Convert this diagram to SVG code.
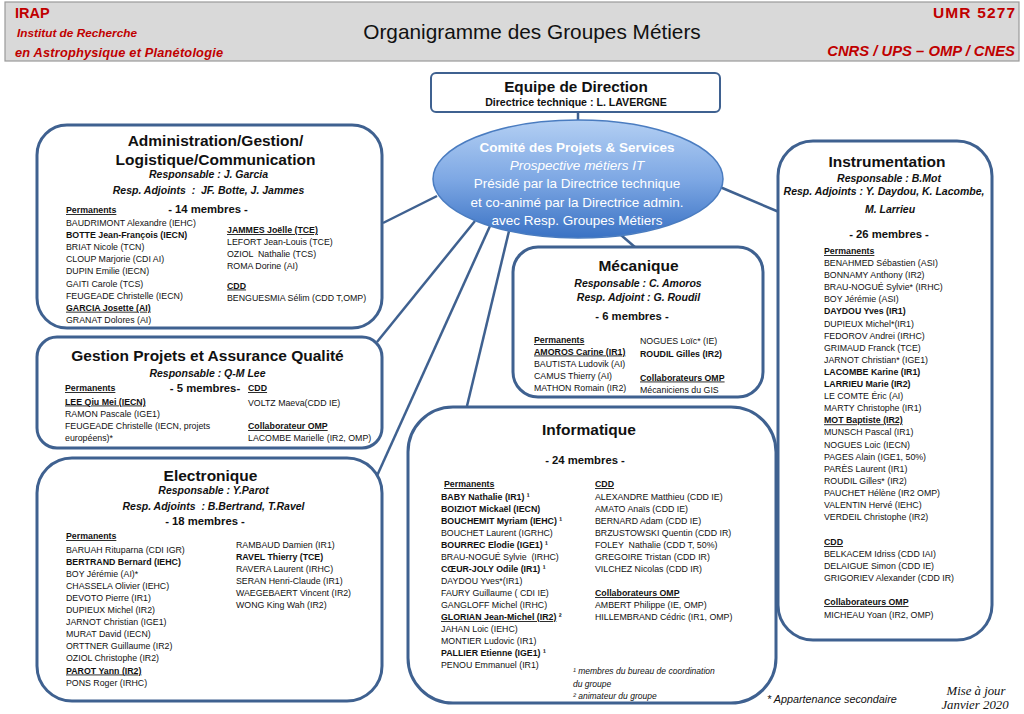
<svg xmlns="http://www.w3.org/2000/svg" width="1024" height="714" viewBox="0 0 1024 714">
<defs>
<linearGradient id="eg" x1="0" y1="0" x2="0" y2="1">
<stop offset="0" stop-color="#b3cff3"/>
<stop offset="0.5" stop-color="#7ea8e4"/>
<stop offset="1" stop-color="#3a72c4"/>
</linearGradient>
<style>
text{font-family:"Liberation Sans",Arial,sans-serif;fill:#111}
.box{fill:#fff;stroke:#3f6190;stroke-width:3}
.con{stroke:#3f6190;stroke-width:2.5;fill:none}
.ttl{font-weight:bold;font-size:15.5px;text-anchor:middle}
.rsp{font-weight:bold;font-style:italic;font-size:10.5px;text-anchor:middle}
.mem{font-weight:bold;font-size:11.3px;text-anchor:middle}
.li{font-size:8.8px}
.b{font-weight:bold}
.u{text-decoration:underline}
.red{fill:#c00000;font-weight:bold}
.wt{fill:#fff;font-size:13.5px;text-anchor:middle}
.fn{font-style:italic;font-size:8.5px}
</style>
</defs>
<rect x="0" y="0" width="1024" height="714" fill="#fff"/>

<g id="header">
<rect x="5" y="2" width="1014" height="59" fill="#d9d9d9" stroke="#9a9a9a" stroke-width="1.2"/>
<text x="15" y="18" class="red" font-size="14.5">IRAP</text>
<text x="17" y="37" class="red" font-size="11.8" font-style="italic">Institut de Recherche</text>
<text x="15" y="57" class="red" font-size="12.8" font-style="italic" textLength="208">en Astrophysique et Planétologie</text>
<text x="532" y="39" font-size="20.8" text-anchor="middle">Organigramme des Groupes Métiers</text>
<text x="1015" y="18" class="red" font-size="15.5" text-anchor="end" textLength="82">UMR 5277</text>
<text x="1015" y="56" class="red" font-size="14.8" font-style="italic" text-anchor="end">CNRS / UPS – OMP / CNES</text>
</g>

<g id="connectors">
<line class="con" x1="578" y1="112" x2="578" y2="121"/>
<line class="con" x1="437" y1="196" x2="383" y2="223"/>
<line class="con" x1="475" y1="221" x2="377" y2="342"/>
<line class="con" x1="490" y1="226" x2="376" y2="478"/>
<line class="con" x1="509" y1="231" x2="467" y2="406"/>
<line class="con" x1="614" y1="229" x2="636" y2="248"/>
<line class="con" x1="720" y1="187" x2="779" y2="212"/>
</g>

<g id="direction">
<rect x="431" y="73" width="289" height="39" rx="5" fill="#fff" stroke="#3f6190" stroke-width="2"/>
<text x="576" y="92" class="b" font-size="15.3" text-anchor="middle">Equipe de Direction</text>
<text x="576" y="106" class="b" font-size="10.6" text-anchor="middle">Directrice technique : L. LAVERGNE</text>
</g>

<g id="comite">
<ellipse cx="578" cy="179" rx="145" ry="59" fill="url(#eg)" stroke="#4a7cc0" stroke-width="1.5"/>
<text x="577" y="151.5" class="wt b">Comité des Projets &amp; Services</text>
<text x="577" y="169.5" class="wt" font-style="italic">Prospective métiers IT</text>
<text x="577" y="188" class="wt">Présidé par la Directrice technique</text>
<text x="577" y="206.5" class="wt">et co-animé par la Directrice admin.</text>
<text x="577" y="224.5" class="wt">avec Resp. Groupes Métiers</text>
</g>

<g id="administration">
<rect class="box" x="37" y="125" width="345" height="203" rx="30"/>
<text x="215.5" y="145.5" class="ttl">Administration/Gestion/</text>
<text x="215.5" y="164.5" class="ttl">Logistique/Communication</text>
<text x="208.5" y="178" class="rsp">Responsable : J. Garcia</text>
<text x="208.5" y="194" class="rsp" xml:space="preserve">Resp. Adjoints  :  JF. Botte, J. Jammes</text>
<text x="208" y="213" class="mem">- 14 membres -</text>
<text x="66" y="213" class="li b u">Permanents</text>
<text x="66" y="226" class="li">BAUDRIMONT Alexandre (IEHC)</text>
<text x="66" y="238" class="li b">BOTTE Jean-François (IECN)</text>
<text x="66" y="250.2" class="li">BRIAT Nicole (TCN)</text>
<text x="66" y="262.3" class="li">CLOUP Marjorie (CDI AI)</text>
<text x="66" y="274.4" class="li">DUPIN Emilie (IECN)</text>
<text x="66" y="286.5" class="li">GAITI Carole (TCS)</text>
<text x="66" y="298.6" class="li">FEUGEADE Christelle (IECN)</text>
<text x="66" y="310.7" class="li b u">GARCIA Josette (AI)</text>
<text x="66" y="322.8" class="li">GRANAT Dolores (AI)</text>
<text x="227" y="233" class="li b u">JAMMES Joëlle (TCE)</text>
<text x="227" y="244.5" class="li">LEFORT Jean-Louis (TCE)</text>
<text x="227" y="256.5" class="li" xml:space="preserve">OZIOL  Nathalie (TCS)</text>
<text x="227" y="268.5" class="li">ROMA Dorine (AI)</text>
<text x="227" y="288.5" class="li b u">CDD</text>
<text x="227" y="300.5" class="li">BENGUESMIA Sélim (CDD T,OMP)</text>
</g>

<g id="gestion-projets">
<rect class="box" x="37" y="337" width="345" height="111" rx="20"/>
<text x="207.5" y="361" class="ttl" font-size="15">Gestion Projets et Assurance Qualité</text>
<text x="207.5" y="376.5" class="rsp">Responsable : Q-M Lee</text>
<text x="205" y="392" class="mem">- 5 membres-</text>
<text x="65" y="391" class="li b u">Permanents</text>
<text x="65" y="404.5" class="li b u">LEE Qiu Mei (IECN)</text>
<text x="65" y="416.5" class="li">RAMON Pascale (IGE1)</text>
<text x="65" y="429" class="li">FEUGEADE Christelle (IECN, projets</text>
<text x="65" y="440.5" class="li">européens)*</text>
<text x="248" y="391" class="li b u">CDD</text>
<text x="248" y="406" class="li">VOLTZ Maeva(CDD IE)</text>
<text x="248" y="429" class="li b u">Collaborateur OMP</text>
<text x="248" y="440.5" class="li">LACOMBE Marielle (IR2, OMP)</text>
</g>

<g id="electronique">
<rect class="box" x="37" y="458" width="345" height="243" rx="35"/>
<text x="210.5" y="481" class="ttl">Electronique</text>
<text x="213.5" y="494" class="rsp">Responsable : Y.Parot</text>
<text x="213.5" y="509.5" class="rsp" xml:space="preserve">Resp. Adjoints  : B.Bertrand, T.Ravel</text>
<text x="205" y="525" class="mem">- 18 membres -</text>
<text x="66" y="539" class="li b u">Permanents</text>
<text x="66" y="552.5" class="li">BARUAH Rituparna (CDI IGR)</text>
<text x="66" y="564.6" class="li b">BERTRAND Bernard (IEHC)</text>
<text x="66" y="576.7" class="li">BOY Jérémie (AI)*</text>
<text x="66" y="588.8" class="li">CHASSELA Olivier (IEHC)</text>
<text x="66" y="600.9" class="li">DEVOTO Pierre (IR1)</text>
<text x="66" y="613" class="li">DUPIEUX Michel (IR2)</text>
<text x="66" y="625.1" class="li">JARNOT Christian (IGE1)</text>
<text x="66" y="637.2" class="li">MURAT David (IECN)</text>
<text x="66" y="649.3" class="li">ORTTNER Guillaume (IR2)</text>
<text x="66" y="661.4" class="li">OZIOL Christophe (IR2)</text>
<text x="66" y="673.5" class="li b u">PAROT Yann (IR2)</text>
<text x="66" y="685.6" class="li">PONS Roger (IRHC)</text>
<text x="236" y="548" class="li">RAMBAUD Damien (IR1)</text>
<text x="236" y="560" class="li b">RAVEL Thierry (TCE)</text>
<text x="236" y="572" class="li">RAVERA Laurent (IRHC)</text>
<text x="236" y="584" class="li">SERAN Henri-Claude (IR1)</text>
<text x="236" y="596" class="li">WAEGEBAERT Vincent (IR2)</text>
<text x="236" y="608" class="li">WONG King Wah (IR2)</text>
</g>

<g id="mecanique">
<rect class="box" x="513" y="247" width="250" height="150" rx="25"/>
<text x="638.5" y="271" class="ttl">Mécanique</text>
<text x="638" y="287" class="rsp">Responsable : C. Amoros</text>
<text x="638.5" y="301" class="rsp">Resp. Adjoint : G. Roudil</text>
<text x="632" y="320" class="mem">- 6 membres -</text>
<text x="534" y="343" class="li b u">Permanents</text>
<text x="534" y="354.5" class="li b u">AMOROS Carine (IR1)</text>
<text x="534" y="367" class="li">BAUTISTA Ludovik (AI)</text>
<text x="534" y="379" class="li">CAMUS Thierry (AI)</text>
<text x="534" y="390.5" class="li">MATHON Romain (IR2)</text>
<text x="640" y="343.5" class="li">NOGUES Loïc* (IE)</text>
<text x="640" y="357" class="li b">ROUDIL Gilles (IR2)</text>
<text x="640" y="380.5" class="li b u">Collaborateurs OMP</text>
<text x="640" y="392.5" class="li">Mécaniciens du GIS</text>
</g>

<g id="informatique">
<rect class="box" x="408" y="407" width="368" height="296" rx="45"/>
<text x="589" y="435" class="ttl">Informatique</text>
<text x="585" y="464" class="mem">- 24 membres -</text>
<text x="444" y="487" class="li b u">Permanents</text>
<text x="441" y="499.5" class="li b">BABY Nathalie (IR1) ¹</text>
<text x="441" y="511.5" class="li b">BOIZIOT Mickaël (IECN)</text>
<text x="441" y="523.6" class="li b">BOUCHEMIT Myriam (IEHC) ¹</text>
<text x="441" y="535.6" class="li">BOUCHET Laurent (IGRHC)</text>
<text x="441" y="547.7" class="li b">BOURREC Elodie (IGE1) ¹</text>
<text x="441" y="559.7" class="li" xml:space="preserve">BRAU-NOGUÉ Sylvie  (IRHC)</text>
<text x="441" y="571.8" class="li b">CŒUR-JOLY Odile (IR1) ¹</text>
<text x="441" y="583.8" class="li">DAYDOU Yves*(IR1)</text>
<text x="441" y="595.9" class="li">FAURY Guillaume ( CDI IE)</text>
<text x="441" y="607.9" class="li">GANGLOFF Michel (IRHC)</text>
<text x="441" y="620" class="li b"><tspan class="u">GLORIAN Jean-Michel (IR2)</tspan> ²</text>
<text x="441" y="632" class="li">JAHAN Loic (IEHC)</text>
<text x="441" y="644.1" class="li">MONTIER Ludovic (IR1)</text>
<text x="441" y="656.1" class="li b">PALLIER Etienne (IGE1) ¹</text>
<text x="441" y="668.2" class="li">PENOU Emmanuel (IR1)</text>
<text x="595" y="487" class="li b u">CDD</text>
<text x="595" y="499.5" class="li">ALEXANDRE Matthieu (CDD IE)</text>
<text x="595" y="511.5" class="li">AMATO Anaïs (CDD IE)</text>
<text x="595" y="523.5" class="li">BERNARD Adam (CDD IE)</text>
<text x="595" y="535.5" class="li">BRZUSTOWSKI Quentin (CDD IR)</text>
<text x="595" y="547.5" class="li" xml:space="preserve">FOLEY  Nathalie (CDD T, 50%)</text>
<text x="595" y="559.5" class="li">GREGOIRE Tristan (CDD IR)</text>
<text x="595" y="571.5" class="li">VILCHEZ Nicolas (CDD IR)</text>
<text x="595" y="596" class="li b u">Collaborateurs OMP</text>
<text x="595" y="608" class="li">AMBERT Philippe (IE, OMP)</text>
<text x="595" y="620" class="li">HILLEMBRAND Cédric (IR1, OMP)</text>
<text x="573" y="674" class="fn">¹ membres du bureau de coordination</text>
<text x="573" y="687" class="fn">du groupe</text>
<text x="573" y="698.5" class="fn">² animateur du groupe</text>
</g>

<g id="instrumentation">
<rect class="box" x="778" y="141" width="214" height="499" rx="35"/>
<text x="887" y="167" class="ttl">Instrumentation</text>
<text x="889" y="182" class="rsp">Responsable : B.Mot</text>
<text x="884" y="195" class="rsp">Resp. Adjoints : Y. Daydou, K. Lacombe,</text>
<text x="890" y="213" class="rsp">M. Larrieu</text>
<text x="889" y="237.5" class="mem">- 26 membres -</text>
<text x="824" y="254" class="li b u">Permanents</text>
<text x="824" y="266" class="li">BENAHMED Sébastien (ASI)</text>
<text x="824" y="278.1" class="li">BONNAMY Anthony (IR2)</text>
<text x="824" y="290.2" class="li">BRAU-NOGUÉ Sylvie* (IRHC)</text>
<text x="824" y="302.3" class="li">BOY Jérémie (ASI)</text>
<text x="824" y="314.4" class="li b">DAYDOU Yves (IR1)</text>
<text x="824" y="326.5" class="li">DUPIEUX Michel*(IR1)</text>
<text x="824" y="338.6" class="li">FEDOROV Andrei (IRHC)</text>
<text x="824" y="350.7" class="li">GRIMAUD Franck (TCE)</text>
<text x="824" y="362.8" class="li">JARNOT Christian* (IGE1)</text>
<text x="824" y="374.9" class="li b">LACOMBE Karine (IR1)</text>
<text x="824" y="387" class="li b">LARRIEU Marie (IR2)</text>
<text x="824" y="399.1" class="li">LE COMTE Éric (AI)</text>
<text x="824" y="411.2" class="li">MARTY Christophe (IR1)</text>
<text x="824" y="423.3" class="li b u">MOT Baptiste (IR2)</text>
<text x="824" y="435.4" class="li">MUNSCH Pascal (IR1)</text>
<text x="824" y="447.5" class="li">NOGUES Loic (IECN)</text>
<text x="824" y="459.6" class="li">PAGES Alain (IGE1, 50%)</text>
<text x="824" y="471.7" class="li">PARÈS Laurent (IR1)</text>
<text x="824" y="483.8" class="li">ROUDIL Gilles* (IR2)</text>
<text x="824" y="495.9" class="li">PAUCHET Hélène (IR2 OMP)</text>
<text x="824" y="508" class="li">VALENTIN Hervé (IEHC)</text>
<text x="824" y="520.1" class="li">VERDEIL Christophe (IR2)</text>
<text x="824" y="545" class="li b u">CDD</text>
<text x="824" y="557" class="li">BELKACEM Idriss (CDD IAI)</text>
<text x="824" y="569" class="li">DELAIGUE Simon (CDD IE)</text>
<text x="824" y="581" class="li">GRIGORIEV Alexander (CDD IR)</text>
<text x="824" y="605" class="li b u">Collaborateurs OMP</text>
<text x="824" y="617.5" class="li">MICHEAU Yoan (IR2, OMP)</text>
</g>

<g id="footer">
<text x="767" y="703" font-size="10.8" font-style="italic">* Appartenance secondaire</text>
<text x="976" y="695" font-size="12.8" font-style="italic" text-anchor="middle" style="font-family:'Liberation Serif','Times New Roman',serif">Mise à jour</text>
<text x="975" y="709" font-size="12.8" font-style="italic" text-anchor="middle" style="font-family:'Liberation Serif','Times New Roman',serif">Janvier 2020</text>
</g>
</svg>
